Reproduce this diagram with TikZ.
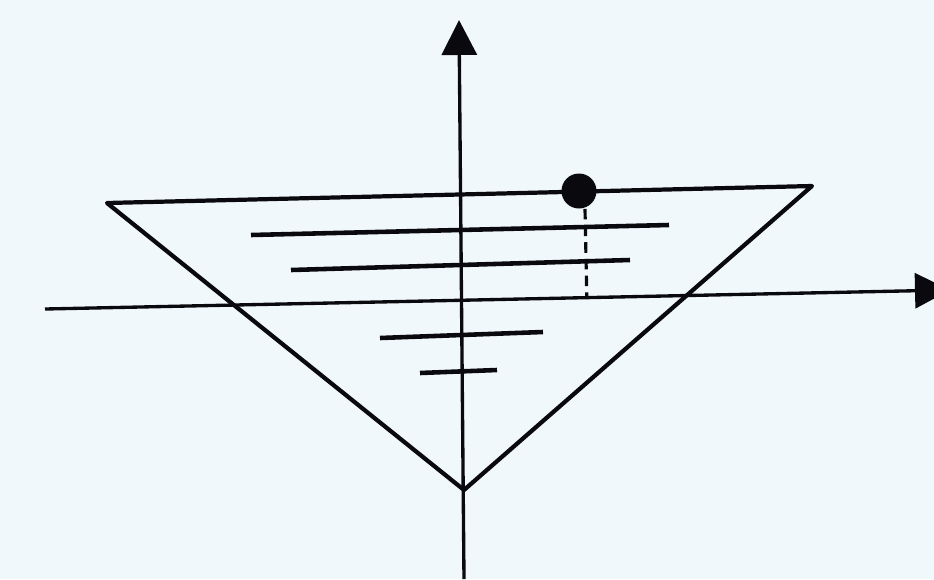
\documentclass[tikz,border=0pt]{standalone}
\usepackage{tikz}
\usetikzlibrary{arrows.meta, positioning, calc}
\definecolor{paperBg}{HTML}{F1F8FB}
\definecolor{inkDark}{HTML}{0A0A0E}
\tikzset{
  axisLine/.style={-{Triangle[length=7mm, width=7mm]}, inkDark, line width=1.9pt},
  edgeLine/.style={inkDark, line width=2.4pt, line join=round},
  levelLine/.style={inkDark, line width=2.6pt},
  dashLine/.style={inkDark, line width=1.8pt, dash pattern=on 6pt off 3.5pt},
  dotMark/.style={circle, fill=inkDark, inner sep=0pt, minimum size=7mm},
}
\begin{document}
\begin{tikzpicture}[x=0.02cm, y=-0.02cm]
    \useasboundingbox[fill=paperBg] (0,0) rectangle (934,579);
    % axes
    \coordinate (yBot) at (464,579);
    \coordinate (yTop) at (459,20);
    \coordinate (xLeft) at (45,309);
    \coordinate (xRight) at (950,290);
    % inverted triangle
    \coordinate (tL) at (107,203);
    \coordinate (tR) at (812,186);
    \coordinate (tB) at (464,490);
    \draw[edgeLine] (tL) -- (tR) -- (tB) -- cycle;
    % levels
    \foreach \xa/\ya/\xb/\yb in {251/235/669/225, 291/270/630/260,
                                 380/338/543/332, 420/373/497/370}
      \draw[levelLine] (\xa,\ya) -- (\xb,\yb);
    \draw[axisLine] (xLeft) -- (xRight);
    \draw[axisLine] (yBot) -- (yTop);
    % point on the surface
    \node[dotMark] (pt) at (579,191) {};
    \coordinate (ptTop) at ([xshift=0.12cm]pt.south);
    \coordinate (ptFoot) at ($(xLeft)!(ptTop)!(xRight)$);
    \draw[dashLine] (ptTop) -- (ptFoot);
  \end{tikzpicture}
\end{document}
